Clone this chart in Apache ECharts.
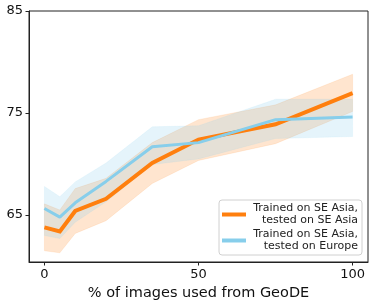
<!DOCTYPE html>
<html>
<head>
<meta charset="utf-8">
<script src="https://cdn.jsdelivr.net/npm/echarts@6/dist/echarts.min.js"></script>
<style>
html,body{margin:0;padding:0;background:#fff;}
#c{width:374px;height:306px;}
</style>
</head>
<body>
<div id="c"></div>
<script>
// Data
const xValues = [0, 5, 10, 20, 35, 50, 75, 100];
const seAsiaMean  = [63.8, 63.4, 65.4, 66.6, 70.1, 72.4, 73.9, 76.95];
const seAsiaLower = [61.5, 61.3, 63.2, 64.45, 68.1, 70.35, 72.0, 75.15];
const seAsiaUpper = [66.1, 65.5, 67.6, 68.6, 72.1, 74.35, 75.8, 78.8];
const europeMean  = [65.65, 64.8, 66.2, 68.3, 71.7, 72.1, 74.35, 74.6];
const europeLower = [63.0, 62.7, 64.3, 66.3, 69.95, 70.5, 72.5, 72.7];
const europeUpper = [67.8, 66.8, 68.25, 70.1, 73.65, 73.75, 76.35, 76.35];
const xTicks = [0, 50, 100];
const yTicks = [65, 75, 85];
const seriesNames = ['Trained on SE Asia, tested on SE Asia', 'Trained on SE Asia, tested on Europe'];
const xAxisTitle = '% of images used from GeoDE';

const orange = '#ff7f0e';
const sky = '#87ceeb';

function bandSeries(lower, upper, fill) {
  return {
    type: 'custom',
    silent: true,
    data: xValues.map((x, i) => [x, lower[i], upper[i]]),
    encode: { x: 0, y: [1, 2] },
    renderItem: function (params, api) {
      if (params.dataIndex !== 0) return null;
      const pts = [];
      for (let i = 0; i < xValues.length; i++) pts.push(api.coord([xValues[i], upper[i]]));
      for (let i = xValues.length - 1; i >= 0; i--) pts.push(api.coord([xValues[i], lower[i]]));
      return {
        type: 'polygon',
        shape: { points: pts },
        style: { fill: fill, stroke: fill, lineWidth: 0.5 }
      };
    },
    z: 1
  };
}

const chart = echarts.init(document.getElementById('c'), null, { renderer: 'canvas' });
chart.setOption({
  animation: false,
  grid: { left: 29, right: 6, top: 11, bottom: 43, show: true, borderColor: '#222', borderWidth: 1, containLabel: false },
  xAxis: {
    type: 'value', min: -5, max: 105,
    splitLine: { show: false },
    axisLine: { show: true, onZero: false, lineStyle: { color: '#222', width: 1 } },
    axisTick: { show: true, customValues: xTicks, length: 3.5, lineStyle: { color: '#222' } },
    axisLabel: { customValues: xTicks, color: '#111', fontSize: 13, margin: 6, fontFamily: 'DejaVu Sans' },
    name: xAxisTitle, nameLocation: 'middle', nameGap: 24,
    nameTextStyle: { color: '#111', fontSize: 14.5, fontFamily: 'DejaVu Sans' }
  },
  yAxis: {
    type: 'value', min: 60.4, max: 85,
    splitLine: { show: false },
    axisLine: { show: true, onZero: false, lineStyle: { color: '#222', width: 1 } },
    axisTick: { show: true, customValues: yTicks, length: 3.5, lineStyle: { color: '#222' } },
    axisLabel: { customValues: yTicks, color: '#111', fontSize: 13, margin: 6, fontFamily: 'DejaVu Sans' }
  },
  legend: {
    orient: 'vertical',
    right: 12, top: 200,
    backgroundColor: '#fff',
    borderColor: '#d0d0d0', borderWidth: 1, borderRadius: 3,
    padding: [3, 4, 3, 3],
    itemWidth: 24, itemHeight: 4, itemGap: 3,
    icon: 'rect',
    data: seriesNames,
    formatter: function (name) {
      const idx = name.indexOf(', ');
      return '{a|' + name.slice(0, idx + 1) + '}\n{a|' + name.slice(idx + 2) + '}';
    },
    textStyle: {
      color: '#222', fontFamily: 'DejaVu Sans', fontSize: 11,
      rich: { a: { width: 107, align: 'right', fontSize: 11, lineHeight: 12, color: '#222', fontFamily: 'DejaVu Sans' } }
    }
  },
  series: [
    bandSeries(seAsiaLower, seAsiaUpper, 'rgba(255,127,14,0.2)'),
    {
      name: seriesNames[0], type: 'line', z: 3,
      data: xValues.map((x, i) => [x, seAsiaMean[i]]),
      symbol: 'none', color: orange,
      lineStyle: { color: orange, width: 4, join: 'miter' }
    },
    bandSeries(europeLower, europeUpper, 'rgba(135,206,235,0.22)'),
    {
      name: seriesNames[1], type: 'line', z: 4,
      data: xValues.map((x, i) => [x, europeMean[i]]),
      symbol: 'none', color: sky,
      lineStyle: { color: sky, width: 3 }
    }
  ]
});
</script>
</body>
</html>
